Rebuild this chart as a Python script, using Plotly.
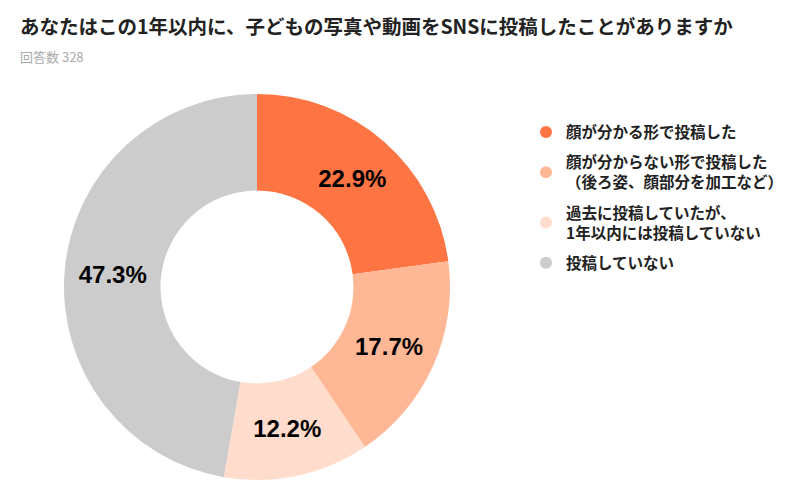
import plotly.graph_objects as go

labels = ["顔が分かる形で投稿した",
          "顔が分からない形で投稿した<br>（後ろ姿、顔部分を加工など）",
          "過去に投稿していたが、<br>1年以内には投稿していない",
          "投稿していない"]
values = [22.9, 17.7, 12.2, 47.3]
colors = ["#FF7443", "#FFB896", "#FFDCCB", "#CCCCCC"]

font = "Noto Sans CJK JP"

fig = go.Figure()
fig.add_trace(go.Pie(labels=labels, values=values, sort=False, direction="clockwise",
                     rotation=0, hole=0.5, marker=dict(colors=colors, line=dict(width=0)),
                     texttemplate="<b>%{value:.1f}%</b>", textposition="inside",
                     insidetextorientation="horizontal",
                     textfont=dict(size=24, color="black", family="Liberation Sans"),
                     showlegend=False, hoverinfo="label+percent",
                     domain=dict(x=[0.07, 0.5525], y=[0.056, 0.828])))

# legend with round markers
for i, (lab, c) in enumerate(zip(labels, colors)):
    fig.add_trace(go.Scatter(x=[None], y=[None], mode="markers", name="<b>" + lab + "</b>",
                             legendgroup=str(i),
                             marker=dict(size=13, color=c, symbol="circle")))

fig.update_layout(
    width=800, height=500, margin=dict(l=0, r=0, t=0, b=0),
    paper_bgcolor="white", plot_bgcolor="white",
    font=dict(family=font, color="#222222"),
    xaxis=dict(visible=False), yaxis=dict(visible=False),
    legend=dict(x=0.6475, y=0.785, xanchor="left", yanchor="top",
                font=dict(size=15.5, color="#222222", family=font),
                tracegroupgap=7, itemsizing="constant"),
    annotations=[
        dict(text="<b>あなたはこの1年以内に、子どもの写真や動画をSNSに投稿したことがありますか</b>",
             x=0.012, y=0.966, xref="paper", yref="paper", xanchor="left", yanchor="middle",
             showarrow=False, font=dict(size=19.5, color="#222222", family=font)),
        dict(text="回答数 328", x=0.012, y=0.903, xref="paper", yref="paper",
             xanchor="left", yanchor="middle", showarrow=False,
             font=dict(size=13, color="#AAAAAA", family=font)),
    ],
)

fig.write_html("out.html")
